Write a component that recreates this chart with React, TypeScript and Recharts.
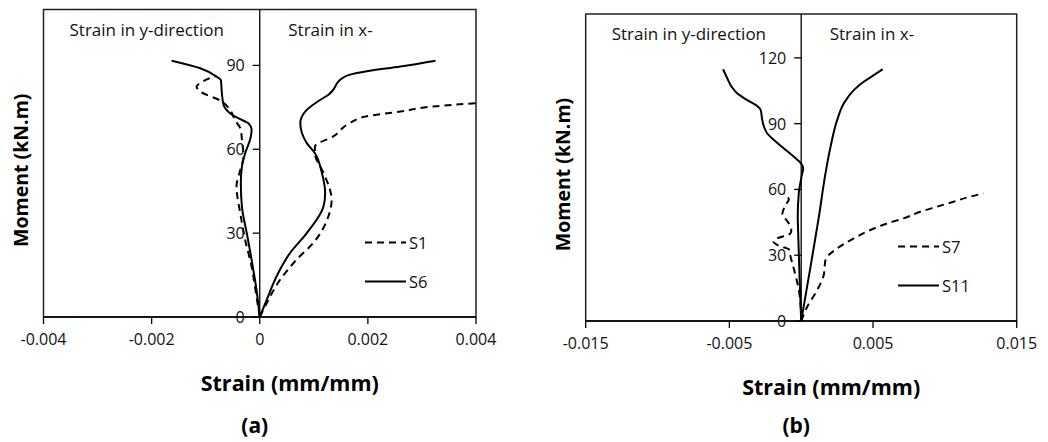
import { ScatterChart, Scatter, XAxis, YAxis, ReferenceLine, ReferenceArea } from 'recharts';

type Pt = { strain: number; moment: number };

// ---- panel (a): S1 / S6 ----
const s1YDir: Pt[] = [
  { strain: 0, moment: 0 }, { strain: -0.00007, moment: 8.5 }, { strain: -0.00015, moment: 18 },
  { strain: -0.00027, moment: 27.6 }, { strain: -0.00036, moment: 37.1 }, { strain: -0.00043, moment: 46.7 },
  { strain: -0.00036, moment: 52.6 }, { strain: -0.0003, moment: 57.4 }, { strain: -0.00033, moment: 63.4 },
  { strain: -0.00035, moment: 67 }, { strain: -0.00046, moment: 70.5 }, { strain: -0.00055, moment: 74.1 },
  { strain: -0.0007, moment: 77.1 }, { strain: -0.0011, moment: 80.7 }, { strain: -0.00117, moment: 82.5 },
  { strain: -0.0011, moment: 83.7 }, { strain: -0.00092, moment: 85.5 }, { strain: -0.0008, moment: 86.3 },
];
const s1XDir: Pt[] = [
  { strain: 0, moment: 0 }, { strain: 0.00013, moment: 5 }, { strain: 0.00038, moment: 13.4 },
  { strain: 0.00068, moment: 20.5 }, { strain: 0.00099, moment: 26.5 }, { strain: 0.00127, moment: 36 },
  { strain: 0.00133, moment: 42 }, { strain: 0.0013, moment: 45.5 }, { strain: 0.00118, moment: 51.5 },
  { strain: 0.00102, moment: 58.6 }, { strain: 0.00102, moment: 61 }, { strain: 0.00136, moment: 64.6 },
  { strain: 0.00167, moment: 69.4 }, { strain: 0.00198, moment: 71.8 }, { strain: 0.0026, moment: 73.5 },
  { strain: 0.00321, moment: 75.3 }, { strain: 0.004, moment: 76.5 },
];
const s6YDir: Pt[] = [
  { strain: 0, moment: 0 }, { strain: -0.00006, moment: 9.7 }, { strain: -0.00015, moment: 20.4 },
  { strain: -0.00024, moment: 30 }, { strain: -0.00033, moment: 39.5 }, { strain: -0.00035, moment: 47.9 },
  { strain: -0.00033, moment: 53.8 }, { strain: -0.00027, moment: 58.6 }, { strain: -0.00018, moment: 63.4 },
  { strain: -0.00015, moment: 67 }, { strain: -0.00021, moment: 69.3 }, { strain: -0.0004, moment: 71.1 },
  { strain: -0.00055, moment: 72.9 }, { strain: -0.00067, moment: 75.9 }, { strain: -0.0007, moment: 80 },
  { strain: -0.00072, moment: 84.8 }, { strain: -0.0008, moment: 86 }, { strain: -0.0011, moment: 89 },
  { strain: -0.00163, moment: 91.7 },
];
const s6XDir: Pt[] = [
  { strain: 0, moment: 0 }, { strain: 0.00013, moment: 6.2 }, { strain: 0.00031, moment: 14.5 },
  { strain: 0.00056, moment: 22.9 }, { strain: 0.00087, moment: 30 }, { strain: 0.00118, moment: 39.6 },
  { strain: 0.00121, moment: 44.3 }, { strain: 0.00115, moment: 51.5 }, { strain: 0.00102, moment: 58.6 },
  { strain: 0.00087, moment: 62.2 }, { strain: 0.00078, moment: 65.8 }, { strain: 0.00075, moment: 69.4 },
  { strain: 0.00087, moment: 74.1 }, { strain: 0.00112, moment: 77.7 }, { strain: 0.00127, moment: 79.5 },
  { strain: 0.00136, moment: 81.3 }, { strain: 0.00149, moment: 84.9 }, { strain: 0.00167, moment: 86.7 },
  { strain: 0.00198, moment: 87.9 }, { strain: 0.0026, moment: 89.6 }, { strain: 0.00325, moment: 91.7 },
];

// ---- panel (b): S7 / S11 ----
const s7YDir: Pt[] = [
  { strain: 0, moment: 0 }, { strain: -0.00005, moment: 8.1 }, { strain: -0.00021, moment: 15.6 },
  { strain: -0.00046, moment: 22.5 }, { strain: -0.00074, moment: 29.3 }, { strain: -0.00086, moment: 32.7 },
  { strain: -0.00155, moment: 34.3 }, { strain: -0.00194, moment: 36.2 }, { strain: -0.00167, moment: 37.7 },
  { strain: -0.00074, moment: 40 }, { strain: -0.00069, moment: 41.5 }, { strain: -0.00102, moment: 46 },
  { strain: -0.00132, moment: 48.3 }, { strain: -0.00109, moment: 52.9 }, { strain: -0.00086, moment: 55.4 },
  { strain: -0.0012, moment: 58.2 },
];
const s7XDir: Pt[] = [
  { strain: 0, moment: 0 }, { strain: 0.00042, moment: 6.5 }, { strain: 0.00111, moment: 14.1 },
  { strain: 0.00157, moment: 21 }, { strain: 0.00169, moment: 27.8 }, { strain: 0.00192, moment: 30.1 },
  { strain: 0.0025, moment: 33.1 }, { strain: 0.00366, moment: 37.7 }, { strain: 0.00482, moment: 41.5 },
  { strain: 0.00597, moment: 44.5 }, { strain: 0.00713, moment: 46.8 }, { strain: 0.00829, moment: 49.8 },
  { strain: 0.00944, moment: 52.1 }, { strain: 0.0106, moment: 54.4 }, { strain: 0.01176, moment: 56.7 },
  { strain: 0.01269, moment: 58.2 },
];
const s11YDir: Pt[] = [
  { strain: 0, moment: 0 }, { strain: -0.0001, moment: 17.2 }, { strain: -0.00021, moment: 40 },
  { strain: -0.00024, moment: 47.6 }, { strain: -0.00017, moment: 58.2 }, { strain: 0.00007, moment: 67.3 },
  { strain: 0.00014, moment: 69.6 }, { strain: 0, moment: 71.8 }, { strain: -0.00051, moment: 74.9 },
  { strain: -0.0012, moment: 78.7 }, { strain: -0.0019, moment: 82.5 }, { strain: -0.00236, moment: 85.5 },
  { strain: -0.00259, moment: 88.6 }, { strain: -0.00271, moment: 91.6 }, { strain: -0.00282, moment: 96.2 },
  { strain: -0.00306, moment: 98 }, { strain: -0.00375, moment: 100.7 }, { strain: -0.00444, moment: 103.7 },
  { strain: -0.00484, moment: 106.8 }, { strain: -0.00514, moment: 110.6 }, { strain: -0.00544, moment: 114.8 },
];
const s11XDir: Pt[] = [
  { strain: 0, moment: 0 }, { strain: 0.00065, moment: 24.8 }, { strain: 0.00123, moment: 47.5 },
  { strain: 0.00169, moment: 67.3 }, { strain: 0.00204, moment: 79.4 }, { strain: 0.0025, moment: 91.6 },
  { strain: 0.00296, moment: 99.2 }, { strain: 0.00366, moment: 105.3 }, { strain: 0.00435, moment: 109.1 },
  { strain: 0.00505, moment: 112.1 }, { strain: 0.00567, moment: 114.8 },
];

const strainTicksA = [-0.004, -0.002, 0, 0.002, 0.004];
const momentTicksA = [0, 30, 60, 90];
const strainTicksB = [-0.015, -0.005, 0.005, 0.015];
const momentTicksB = [0, 30, 60, 90, 120];

const FONT = '"Open Sans", "Liberation Sans", sans-serif';
const DASH = '7 5';

interface Sample { name: string; dashed: boolean; yDir: Pt[]; xDir: Pt[] }

interface PanelProps {
  left: number;
  width: number;
  margin: { top: number; right: number; bottom: number; left: number };
  strainMax: number;
  momentMax: number;
  strainTicks: number[];
  momentTicks: number[];
  samples: Sample[];
  legendX: number;
  legendY: number;
  letter: string;
}

const H = 442;
const AXIS_H = 30;
const Y_AXIS_W = 1;

const noDot = () => <g />;

function Panel({ left, width, margin, strainMax, momentMax, strainTicks, momentTicks, samples, legendX, legendY, letter }: PanelProps) {
  const plotLeft = margin.left + Y_AXIS_W;
  const plotW = width - plotLeft - margin.right;
  const plotTop = margin.top;
  const plotBottom = H - margin.bottom - AXIS_H;
  const cx = plotLeft + plotW / 2;

  // moment ticks are drawn on the zero-strain line in the middle of the plot
  const renderMomentTick = (props: any) => {
    const { y, payload } = props;
    return (
      <g key={`mt-${payload.value}`}>
        <line x1={cx - 7} x2={cx} y1={y} y2={y} stroke="#000" strokeWidth={1.3} />
        <text x={cx - 15} y={y} textAnchor="end" dominantBaseline="central" fontSize={16} fill="#111" fontFamily={FONT}>
          {payload.value}
        </text>
      </g>
    );
  };

  return (
    <div style={{ position: 'absolute', left, top: 0, width, height: H }}>
      <ScatterChart width={width} height={H} margin={margin}>
        <XAxis
          type="number"
          dataKey="strain"
          domain={[-strainMax, strainMax]}
          ticks={strainTicks}
          interval={0}
          height={AXIS_H}
          axisLine={{ stroke: '#000', strokeWidth: 1.5 }}
          tickLine={{ stroke: '#000', strokeWidth: 1.3 }}
          tickSize={7}
          tickMargin={10}
          tick={{ fill: '#111', fontSize: 16, fontFamily: FONT }}
          allowDataOverflow
        />
        <YAxis
          type="number"
          dataKey="moment"
          domain={[0, momentMax]}
          ticks={momentTicks}
          interval={0}
          width={Y_AXIS_W}
          axisLine={false}
          tickLine={false}
          tick={renderMomentTick}
          allowDataOverflow
        />
        <ReferenceArea x1={-strainMax} x2={strainMax} y1={0} y2={momentMax} fill="none" stroke="#222" strokeWidth={1.5} ifOverflow="visible" />
        <ReferenceLine x={0} stroke="#000" strokeWidth={1.3} />
        {samples.flatMap((s) => [
          <Scatter
            key={s.name + '-y'}
            name={s.name}
            data={s.yDir}
            fill="#000"
            line={{ stroke: '#000', strokeWidth: 2, strokeDasharray: s.dashed ? DASH : undefined }}
            lineJointType="monotoneY"
            shape={noDot}
            legendType="none"
            isAnimationActive={false}
          />,
          <Scatter
            key={s.name + '-x'}
            name={s.name}
            data={s.xDir}
            fill="#000"
            line={{ stroke: '#000', strokeWidth: 2, strokeDasharray: s.dashed ? DASH : undefined }}
            lineJointType="monotoneY"
            shape={noDot}
            isAnimationActive={false}
          />,
        ])}
      </ScatterChart>

      <svg width={width} height={H} style={{ position: 'absolute', left: 0, top: 0, pointerEvents: 'none' }} fontFamily={FONT}>
        <text x={plotLeft + 26} y={plotTop + 26} fontSize={17} fill="#111">Strain in y-direction</text>
        <text x={cx + 28.5} y={plotTop + 26} fontSize={17} fill="#111">Strain in x-</text>

        {samples.map((s, i) => (
          <g key={s.name}>
            <line x1={legendX} x2={legendX + 41} y1={legendY + i * 39} y2={legendY + i * 39} stroke="#000" strokeWidth={2} strokeDasharray={s.dashed ? DASH : undefined} />
            <text x={legendX + 44} y={legendY + i * 39} dominantBaseline="central" fontSize={16.5} fill="#111">{s.name}</text>
          </g>
        ))}

        <text
          transform={`translate(${plotLeft - 23}, ${(plotTop + plotBottom) / 2 + 7}) rotate(-90)`}
          textAnchor="middle"
          dominantBaseline="central"
          fontSize={19.5}
          fontWeight={700}
          fill="#000"
        >
          Moment (kN.m)
        </text>
        <text x={cx + 30} y={plotBottom + 65} textAnchor="middle" dominantBaseline="central" fontSize={21.5} fontWeight={700} fill="#000">
          Strain (mm/mm)
        </text>
        <text x={cx - 5} y={425} textAnchor="middle" dominantBaseline="central" fontSize={21} fontWeight={700} fill="#000">
          ({letter})
        </text>
      </svg>
    </div>
  );
}

export default function App() {
  const samplesA: Sample[] = [
    { name: 'S1', dashed: true, yDir: s1YDir, xDir: s1XDir },
    { name: 'S6', dashed: false, yDir: s6YDir, xDir: s6XDir },
  ];
  const samplesB: Sample[] = [
    { name: 'S7', dashed: true, yDir: s7YDir, xDir: s7XDir },
    { name: 'S11', dashed: false, yDir: s11YDir, xDir: s11XDir },
  ];

  return (
    <div style={{ position: 'absolute', left: 0, top: 0, width: 1048, height: H, background: '#fff', overflow: 'hidden' }}>
      <Panel
        left={0}
        width={520}
        margin={{ top: 9.5, right: 44, bottom: 95, left: 42.5 }}
        strainMax={0.004}
        momentMax={110}
        strainTicks={strainTicksA}
        momentTicks={momentTicksA}
        samples={samplesA}
        legendX={365}
        legendY={242.5}
        letter="a"
      />
      <Panel
        left={520}
        width={528}
        margin={{ top: 14, right: 31.3, bottom: 91, left: 64.7 }}
        strainMax={0.015}
        momentMax={140}
        strainTicks={strainTicksB}
        momentTicks={momentTicksB}
        samples={samplesB}
        legendX={378}
        legendY={246.5}
        letter="b"
      />
    </div>
  );
}
